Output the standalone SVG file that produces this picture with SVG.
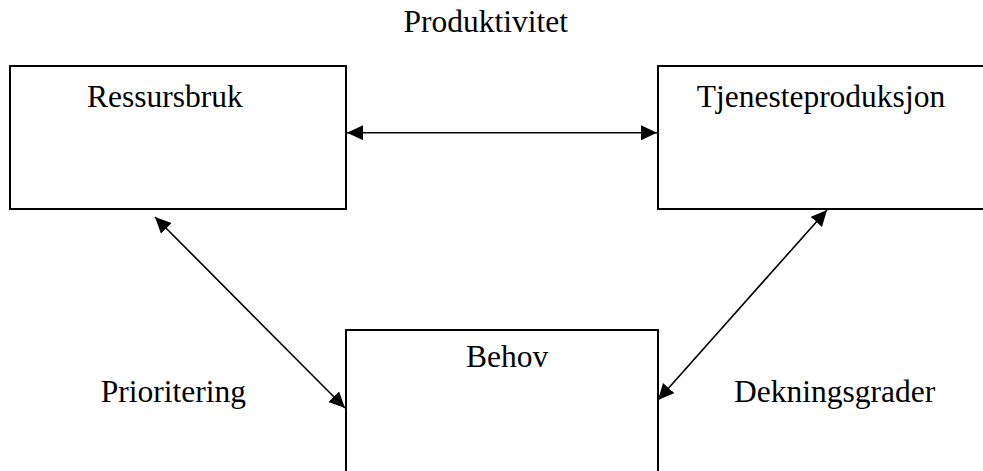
<svg xmlns="http://www.w3.org/2000/svg" width="983" height="471" viewBox="0 0 983 471">
<style>
.box{fill:#fff;stroke:#000;stroke-width:2}
.lbl{font-family:"Liberation Serif","Times New Roman",serif;font-size:31.5px;fill:#000}
.conn{stroke:#000;stroke-width:1.6;fill:none;marker-start:url(#ah);marker-end:url(#ah)}
</style>
<defs>
<marker id="ah" markerUnits="userSpaceOnUse" markerWidth="18" markerHeight="16" refX="16" refY="7.5" orient="auto-start-reverse" viewBox="0 0 18 16">
<path d="M0,0 L16,7.5 L0,15 Z" fill="#000"/>
</marker>
</defs>
<rect width="983" height="471" fill="#fff"/>
<text class="lbl" x="403.5" y="31.7">Produktivitet</text>
<g id="ressursbruk">
<rect class="box" x="10" y="66" width="336" height="143"/>
<text class="lbl" x="87" y="106.7">Ressursbruk</text>
</g>
<g id="tjenesteproduksjon">
<rect class="box" x="658" y="66" width="340" height="143"/>
<text class="lbl" x="696.7" y="106.7">Tjenesteproduksjon</text>
</g>
<g id="behov">
<rect class="box" x="346" y="330" width="312" height="160"/>
<text class="lbl" x="466" y="366.7">Behov</text>
</g>
<text class="lbl" x="100.7" y="401.7">Prioritering</text>
<text class="lbl" x="734" y="401.7">Dekningsgrader</text>
<g id="connectors">
<line class="conn" x1="347" y1="132.7" x2="657" y2="132.7"/>
<line class="conn" x1="155" y1="217" x2="345" y2="408"/>
<line class="conn" x1="827" y1="210" x2="658" y2="400"/>
</g>
</svg>
